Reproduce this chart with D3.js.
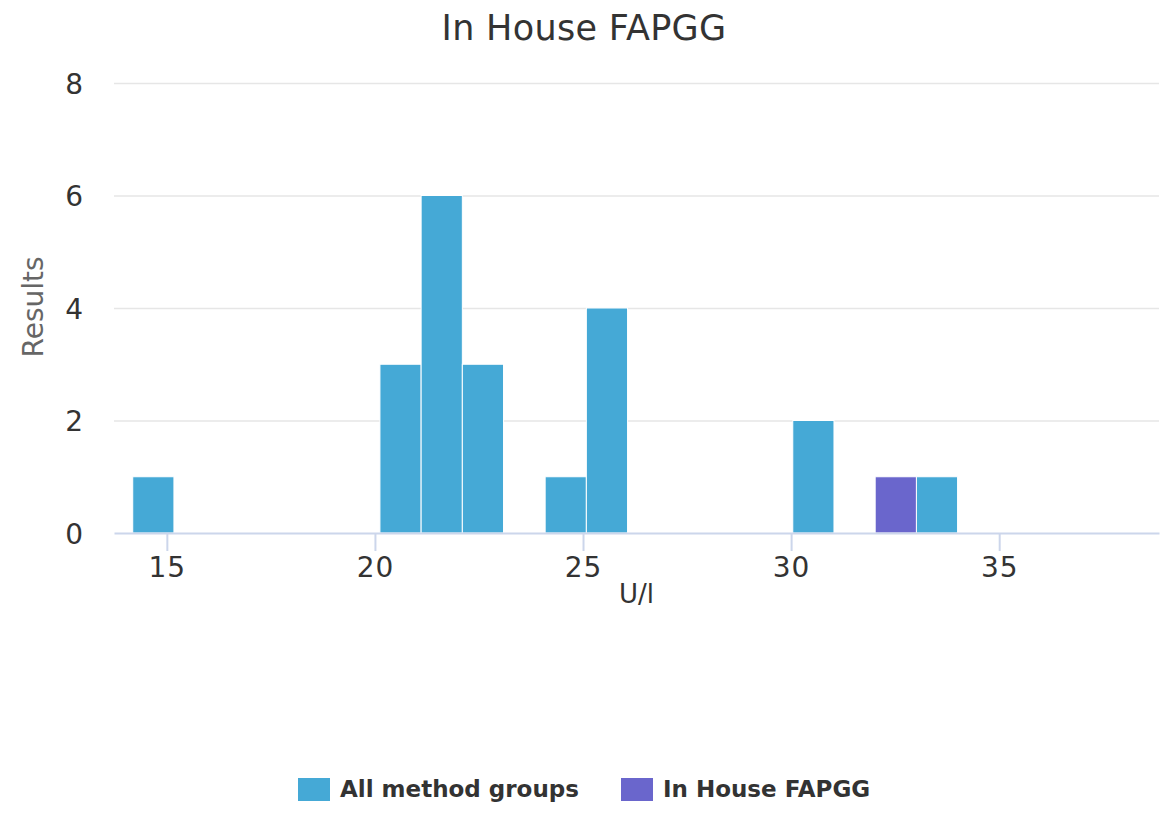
<!DOCTYPE html>
<html>
<head>
<meta charset="utf-8">
<script src="https://cdnjs.cloudflare.com/ajax/libs/d3/7.8.5/d3.min.js"></script>
<style>
  body { margin: 0; background: #fff; }
  text { font-family: "DejaVu Sans", sans-serif; }
</style>
</head>
<body>
<div class="canvas"></div>
<script>
// histogram bins
const binWidth = 0.99;
const allStarts = [14.18, 20.12, 21.11, 22.10, 24.09, 25.08, 30.04, 33.01];
const allCounts = [1, 3, 6, 3, 1, 4, 2, 1];
const houseStarts = [32.02];
const houseCounts = [1];

const seriesNames = ['All method groups', 'In House FAPGG'];
const seriesColors = ['#45a9d6', '#6a66cc'];
const xTicks = [15, 20, 25, 30, 35];
const yTicks = [0, 2, 4, 6, 8];

const width = 1175, height = 814;

const svg = d3.select('.canvas')
  .append('svg')
  .attr('width', width)
  .attr('height', height);

const x = d3.scaleLinear()
  .domain([13.73, 38.84])
  .range([114, 1159]);

const y = d3.scaleLinear()
  .domain([0, 8])
  .range([533, 83]);

// title
svg.append('text')
  .attr('x', 584)
  .attr('y', 40)
  .attr('text-anchor', 'middle')
  .attr('fill', '#333')
  .style('font-size', '35px')
  .style('letter-spacing', '0.3px')
  .text('In House FAPGG');

// grid lines
svg.append('g')
  .selectAll('line')
  .data(yTicks.filter(d => d > 0))
  .enter()
  .append('line')
  .attr('x1', x.range()[0])
  .attr('x2', x.range()[1])
  .attr('y1', d => y(d) + 0.5)
  .attr('y2', d => y(d) + 0.5)
  .attr('stroke', '#e6e6e6')
  .attr('stroke-width', 1.5);

// y axis labels
const yAxis = svg.append('g')
  .attr('transform', `translate(${x.range()[0]},0)`)
  .call(d3.axisLeft(y).tickValues(yTicks).tickSize(0).tickPadding(31));
yAxis.select('.domain').remove();
yAxis.selectAll('text')
  .attr('fill', '#333')
  .attr('dy', '0.36em')
  .style('font-size', '28px')
  .style('font-family', '"DejaVu Sans", sans-serif');

svg.append('text')
  .attr('transform', 'translate(43,307) rotate(-90)')
  .attr('text-anchor', 'middle')
  .attr('fill', '#666')
  .style('font-size', '28px')
  .text('Results');

// bars
const allData = allStarts.map((s, i) => ({ x0: s, x1: s + binWidth, n: allCounts[i] }));
const houseData = houseStarts.map((s, i) => ({ x0: s, x1: s + binWidth, n: houseCounts[i] }));

[allData, houseData].forEach((data, k) => {
  svg.append('g')
    .selectAll('rect')
    .data(data)
    .enter()
    .append('rect')
    .attr('x', d => x(d.x0))
    .attr('width', d => x(d.x1) - x(d.x0))
    .attr('y', d => y(d.n))
    .attr('height', d => y(0) - y(d.n))
    .attr('fill', seriesColors[k])
    .attr('stroke', '#fff')
    .attr('stroke-width', 1);
});

// x axis
const xAxis = svg.append('g')
  .attr('transform', `translate(0,${y(0)})`)
  .call(d3.axisBottom(x).tickValues(xTicks).tickSize(18).tickSizeOuter(0).tickPadding(6));
xAxis.select('.domain')
  .attr('stroke', '#ccd6eb')
  .attr('stroke-width', 2);
xAxis.selectAll('.tick line')
  .attr('stroke', '#ccd6eb')
  .attr('stroke-width', 2);
xAxis.selectAll('text')
  .attr('fill', '#333')
  .style('font-size', '28px')
  .style('letter-spacing', '1px')
  .style('font-family', '"DejaVu Sans", sans-serif');

svg.append('text')
  .attr('x', (x.range()[0] + x.range()[1]) / 2)
  .attr('y', 603)
  .attr('text-anchor', 'middle')
  .attr('fill', '#333')
  .style('font-size', '26px')
  .text('U/l');

// legend
const legendX = [298, 621];
const legend = svg.append('g')
  .selectAll('g')
  .data(seriesNames)
  .enter()
  .append('g')
  .attr('transform', (d, i) => `translate(${legendX[i]},778)`);

legend.append('rect')
  .attr('width', 32)
  .attr('height', 23)
  .attr('fill', (d, i) => seriesColors[i]);

legend.append('text')
  .attr('x', 42)
  .attr('y', 19)
  .attr('fill', '#333')
  .style('font-size', '23px')
  .style('font-weight', 'bold')
  .text(d => d);
</script>
</body>
</html>
